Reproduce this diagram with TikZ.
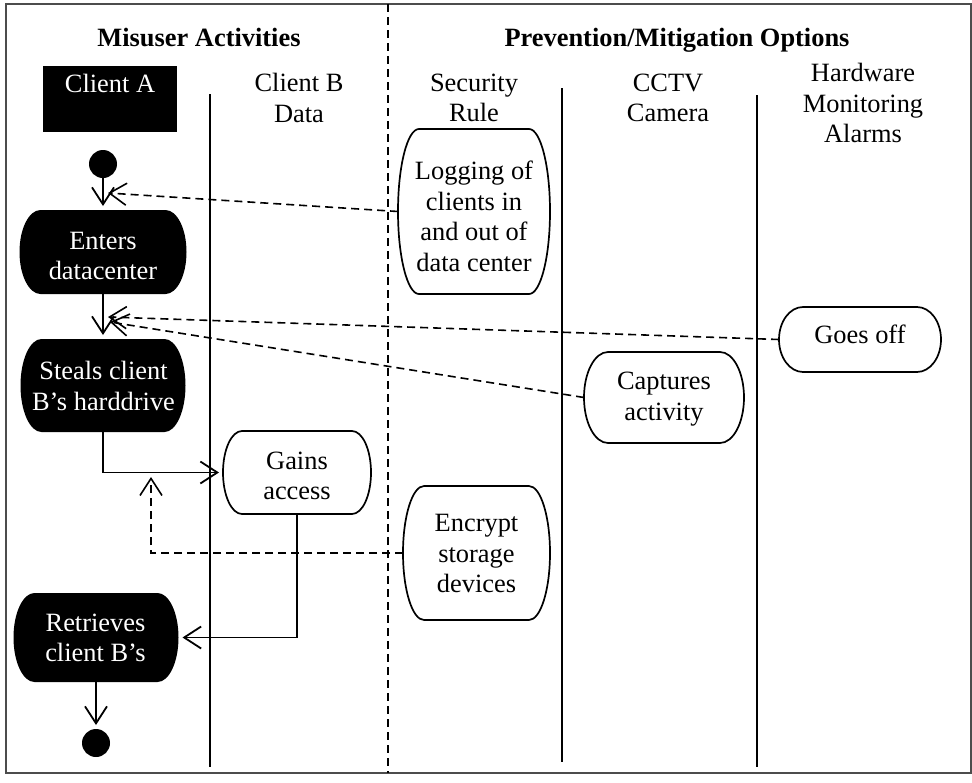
\documentclass[tikz,border=0pt]{standalone}
\usepackage{fontspec}
\setmainfont{Liberation Serif}
\usetikzlibrary{arrows.meta,calc,backgrounds}

% Rounded-side activity outline drawn around a named (empty) node:
% #1 node name, #2 horizontal corner radius (pt), #3 path options
\newcommand\pillpath[3]{%
  \path[#3] let \p1=(#1.north east), \p2=(#1.south west),
               \n1={(\y1-\y2)/2} in
    (\x2+#2pt,\y1) -- (\x1-#2pt,\y1)
    arc[start angle=90, end angle=-90, x radius=#2pt, y radius=\n1]
    -- (\x2+#2pt,\y2)
    arc[start angle=270, end angle=90, x radius=#2pt, y radius=\n1]
    -- cycle;}

\begin{document}
\begin{tikzpicture}[x=1pt, y=-1pt,
  every node/.style={font=\fontsize{26.4}{30.5}\selectfont,
                     inner sep=0pt, outer sep=0pt},
  head/.style={font=\fontsize{26.4}{30.5}\selectfont\bfseries, anchor=base},
  lbl/.style={align=center},
  wlbl/.style={align=center, text=white},
  shp/.style={draw=none, rectangle},
  dot/.style={circle, fill=black, minimum size=28pt},
  frame/.style={draw=black!70, line width=2.2pt},
  lane/.style={line width=1.7pt},
  outline/.style={draw, line width=1.7pt, fill=white},
  divider/.style={line width=2.2pt, dash pattern=on 8pt off 5pt},
  flow/.style={line width=1.8pt, shorten >=4pt,
               -{Straight Barb[length=17pt, width=22pt, line width=1.8pt]}},
  warn/.style={line width=1.6pt, dash pattern=on 8pt off 5pt,
               -{Straight Barb[length=17pt, width=22pt, line width=1.6pt]}},
]
\useasboundingbox (0,0) rectangle (972,782);

% frame, partition and swimlane lines
\draw[frame] (6,4) rectangle (971,773);
\draw[divider] (388,4) -- (388,773);
\draw[lane] (210,94) -- (210,767);
\draw[lane] (562,88) -- (562,762);
\draw[lane] (757,95) -- (757,767);

% partition titles
\node[head] (misuser) at (199,46) {Misuser Activities};
\node[head] (prevention) at (677,46) {Prevention/Mitigation Options};

% swimlane headers
\node[fill=black, text=white, align=center, minimum width=134pt,
      minimum height=66pt] (clientA) at (110,99) {Client A\\~};
\node[lbl] (clientB) at (299,98) {Client B\\Data};
\node[lbl] (security) at (474,98) {Security\\Rule};
\node[lbl] (cctv) at (668,98) {CCTV\\Camera};
\node[lbl] (hardware) at (863,103) {Hardware\\Monitoring\\Alarms};

% initial and final states
\node[dot] (start) at (103,164) {};
\node[dot] (finish) at (96,743) {};

% activity outlines (named geometry)
\node[shp, minimum width=167pt, minimum height=84pt] (enters) at (103,252) {};
\node[shp, minimum width=165pt, minimum height=93pt] (steals) at (103,385.5) {};
\node[shp, minimum width=165pt, minimum height=89pt] (retrieves) at (96,637.5) {};
\node[shp, minimum width=148pt, minimum height=83pt] (gains) at (297,472.5) {};
\node[shp, minimum width=152pt, minimum height=165pt] (logging) at (474,211.5) {};
\node[shp, minimum width=160pt, minimum height=91pt] (captures) at (664,397.5) {};
\node[shp, minimum width=162pt, minimum height=65pt] (goesoff) at (860,339.5) {};
\node[shp, minimum width=147pt, minimum height=134pt] (encrypt) at (476.5,553) {};

\begin{pgfonlayer}{background}
  \pillpath{enters}{21}{fill=black}
  \pillpath{steals}{21}{fill=black}
  \pillpath{retrieves}{21}{fill=black}
  \pillpath{gains}{19}{outline}
  \pillpath{logging}{21}{outline}
  \pillpath{captures}{24}{outline}
  \pillpath{goesoff}{24}{outline}
  \pillpath{encrypt}{21}{outline}
\end{pgfonlayer}

% activity texts
\node[wlbl] (entersT) at (103,256) {Enters\\datacenter};
\node[wlbl] (stealsT) at (103.5,386) {Steals client\\B’s harddrive};
\node[wlbl] (retrievesT) at (95.5,638) {Retrieves\\client B’s};
\node[lbl] (gainsT) at (297,476) {Gains\\access};
\node[lbl] (loggingT) at (474,216.5) {Logging of\\clients in\\and out of\\data center};
\node[lbl] (capturesT) at (664,399) {Captures\\activity};
\node[lbl] (goesoffT) at (860,334) {Goes off};
\node[lbl] (encryptT) at (476.5,553.5) {Encrypt\\storage\\devices};

% control flow
\draw[flow] (start.south) -- (start.south |- enters.north);
\draw[flow] (enters.south) -- (enters.south |- steals.north);
\draw[flow] (steals.south) |- (gains.west);
\draw[flow] (gains.south) |- (retrieves.east);
\draw[flow] (retrieves.south) -- (retrieves.south |- finish.north);

% countermeasure links
\coordinate (tipLog) at (108,193);
\coordinate (tipGoes) at (108,317);
\coordinate (tipCap) at (110,322);
\coordinate (tipEnc) at (151,477);
\draw[warn] (logging.west) -- (tipLog);
\draw[warn] (goesoff.west) -- (tipGoes);
\draw[warn] (captures.west) -- (tipCap);
\draw[warn] (encrypt.west) -| (tipEnc);
\end{tikzpicture}
\end{document}
